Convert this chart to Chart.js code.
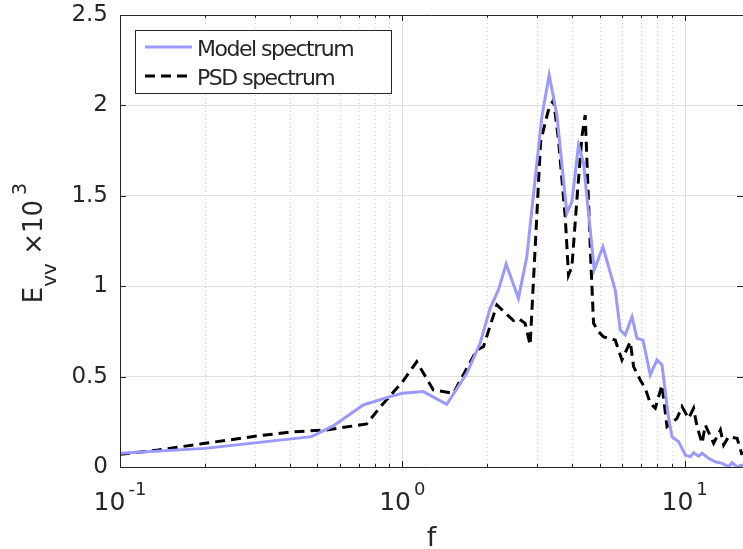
<!DOCTYPE html>
<html>
<head>
<meta charset="utf-8">
<script src="https://cdn.jsdelivr.net/npm/chart.js@4/dist/chart.umd.min.js"></script>
<style>
  html, body { margin: 0; padding: 0; background: #fff; }
</style>
</head>
<body>
<canvas id="myChart" width="743" height="549"></canvas>
<script>
// model spectrum (blue solid)
const modelF = [0.1, 0.2, 0.477, 0.569, 0.727, 0.905, 1.0, 1.187, 1.437, 1.692, 1.886, 2.046, 2.19, 2.332, 2.578, 2.761,
  3.121, 3.313, 3.528, 3.828, 3.988, 4.209, 4.385, 4.784, 5.135, 5.679, 5.916, 6.163, 6.51, 6.781, 7.121, 7.557,
  7.983, 8.316, 8.776, 9.022, 9.522, 10.06, 10.48, 10.76, 11.21, 11.53, 12.16, 12.85, 13.57, 14.32, 14.73, 15.34, 15.98, 16.1];
const modelE = [0.076, 0.103, 0.168, 0.227, 0.343, 0.389, 0.408, 0.417, 0.347, 0.518, 0.684, 0.878, 0.979, 1.123, 0.933, 1.163,
  1.938, 2.168, 1.947, 1.403, 1.468, 1.781, 1.68, 1.09, 1.218, 0.979, 0.758, 0.73, 0.831, 0.712, 0.702, 0.509,
  0.592, 0.564, 0.269, 0.168, 0.14, 0.066, 0.057, 0.079, 0.06, 0.076, 0.048, 0.029, 0.02, 0.002, 0.024, 0.0, 0.011, 0.01];

// PSD spectrum (black dashed)
const psdF = [0.1, 0.1364, 0.2, 0.3046, 0.4107, 0.5394, 0.7476, 0.8334, 1.0, 1.125, 1.288, 1.517, 1.836, 1.938, 2.162,
  2.476, 2.578, 2.723, 2.837, 3.09, 3.287, 3.432, 3.574, 3.776, 3.879, 3.988, 4.153, 4.327, 4.445, 4.507, 4.657,
  4.758, 4.955, 5.162, 5.679, 5.998, 6.42, 6.595, 6.965, 7.255, 7.557, 7.873, 8.316, 8.663, 9.397, 9.79, 10.33,
  10.76, 11.07, 11.53, 11.84, 12.67, 13.39, 13.75, 14.32, 15.34, 15.98];
const psdE = [0.07, 0.094, 0.131, 0.171, 0.195, 0.205, 0.238, 0.33, 0.47, 0.582, 0.426, 0.408, 0.647, 0.665, 0.896,
  0.81, 0.822, 0.795, 0.675, 1.80, 1.97, 2.03, 1.81, 1.385, 1.062, 1.108, 1.477, 1.827, 1.947, 1.698, 1.127,
  0.795, 0.748, 0.72, 0.702, 0.592, 0.693, 0.555, 0.481, 0.435, 0.352, 0.325, 0.453, 0.223, 0.269, 0.334, 0.269,
  0.325, 0.223, 0.131, 0.232, 0.131, 0.205, 0.122, 0.168, 0.159, 0.066];

const xMajor = [0.1, 1, 10];
const xMajorLabels = [['10', '-1'], ['10', '0'], ['10', '1']];
const yTicks = [0, 0.5, 1, 1.5, 2, 2.5];
const seriesNames = ['Model spectrum', 'PSD spectrum'];

const txtColor = '#262626';
const blue = '#9999ff';
const font = 'DejaVu Sans';

// minor x values for grid/ticks
function xGridValues(min, max) {
  const out = [];
  for (let d = -1; d <= 1; d++) {
    for (let k = 1; k <= 9; k++) {
      const v = k * Math.pow(10, d);
      if (v >= min && v <= max) out.push({ v: v, major: k === 1 });
    }
  }
  return out;
}

const decor = {
  id: 'decor',
  beforeDatasetsDraw(chart) {
    const ctx = chart.ctx, a = chart.chartArea, xs = chart.scales.x;
    ctx.save();
    ctx.lineWidth = 1;
    xGridValues(xs.min, xs.max).forEach(g => {
      const px = Math.round(xs.getPixelForValue(g.v)) + 0.5;
      if (g.major) { ctx.strokeStyle = '#dedede'; ctx.setLineDash([]); }
      else { ctx.strokeStyle = '#cfcfcf'; ctx.setLineDash([1, 3]); }
      ctx.beginPath(); ctx.moveTo(px, a.top); ctx.lineTo(px, a.bottom); ctx.stroke();
    });
    ctx.restore();
  },
  afterDraw(chart) {
    const ctx = chart.ctx, a = chart.chartArea, xs = chart.scales.x, ys = chart.scales.y;
    ctx.save();
    // axes box
    ctx.strokeStyle = txtColor; ctx.lineWidth = 1; ctx.setLineDash([]);
    ctx.beginPath();
    ctx.moveTo(a.left + 0.5, a.bottom + 0.5); ctx.lineTo(a.left + 0.5, a.top + 0.5); ctx.lineTo(a.right, a.top + 0.5);
    ctx.moveTo(a.left + 0.5, a.bottom + 0.5); ctx.lineTo(a.right, a.bottom + 0.5);
    ctx.stroke();
    // x ticks (inward, top and bottom)
    ctx.beginPath();
    xGridValues(xs.min, xs.max).forEach(g => {
      const px = Math.round(xs.getPixelForValue(g.v)) + 0.5;
      const len = g.major ? 6 : 3;
      ctx.moveTo(px, a.bottom); ctx.lineTo(px, a.bottom - len);
      ctx.moveTo(px, a.top); ctx.lineTo(px, a.top + len);
    });
    // y ticks
    yTicks.forEach(v => {
      const py = Math.round(ys.getPixelForValue(v)) + 0.5;
      ctx.moveTo(a.left, py); ctx.lineTo(a.left + 6, py);
      ctx.moveTo(a.right, py); ctx.lineTo(a.right - 6, py);
    });
    ctx.stroke();

    // x tick labels with superscript
    ctx.fillStyle = txtColor;
    ctx.textBaseline = 'alphabetic';
    ctx.textAlign = 'left';
    xMajor.forEach((v, i) => {
      const px = xs.getPixelForValue(v);
      const [base, sup] = xMajorLabels[i];
      ctx.font = '25px "' + font + '"';
      const wb = ctx.measureText(base).width;
      ctx.font = '18px "' + font + '"';
      const ws = ctx.measureText(sup).width;
      const x0 = px - (wb + 3 + ws) / 2;
      ctx.font = '25px "' + font + '"';
      ctx.fillText(base, x0, 510);
      ctx.font = '18px "' + font + '"';
      ctx.fillText(sup, x0 + wb + 3, 495);
    });

    // x title
    ctx.font = '27px "' + font + '"';
    ctx.textAlign = 'center';
    ctx.fillText('f', (a.left + a.right) / 2, 546);

    // y title: E_vv x10^3
    const segs = [
      { t: 'E', size: 26, dy: 0 },
      { t: 'vv', size: 20, dy: 14 },
      { t: ' \u00d7', size: 26, dy: 0 },
      { t: '10', size: 26, dy: 0 },
      { t: '3', size: 19, dy: -16, gap: 5 }
    ];
    let total = 0;
    segs.forEach(s => { ctx.font = s.size + 'px "' + font + '"'; s.w = ctx.measureText(s.t).width; total += s.w + (s.gap || 0); });
    ctx.save();
    ctx.translate(42, 243);
    ctx.rotate(-Math.PI / 2);
    ctx.textAlign = 'left';
    let cx = -total / 2;
    segs.forEach(s => {
      cx += (s.gap || 0);
      ctx.font = s.size + 'px "' + font + '"';
      ctx.fillText(s.t, cx, s.dy);
      cx += s.w;
    });
    ctx.restore();

    // legend
    const bx = 135.5, by = 30.5, bw = 256, bh = 63;
    ctx.fillStyle = '#fff';
    ctx.fillRect(bx, by, bw, bh);
    ctx.strokeStyle = txtColor; ctx.lineWidth = 1;
    ctx.strokeRect(bx, by, bw, bh);
    const rows = [
      { y: 47, color: blue, dash: [] },
      { y: 76, color: '#000', dash: [10, 6] }
    ];
    rows.forEach((r, i) => {
      ctx.strokeStyle = r.color; ctx.lineWidth = 3; ctx.setLineDash(r.dash);
      ctx.beginPath(); ctx.moveTo(145, r.y); ctx.lineTo(192, r.y); ctx.stroke();
      ctx.setLineDash([]);
      ctx.fillStyle = txtColor;
      ctx.font = '22px "' + font + '"';
      ctx.letterSpacing = '-1.5px';
      ctx.textAlign = 'left';
      ctx.fillText(seriesNames[i], 197, r.y + 9);
      ctx.letterSpacing = '0px';
    });
    ctx.restore();
  }
};

const data = {
  datasets: [
    {
      label: seriesNames[0],
      data: modelF.map((f, i) => ({ x: f, y: modelE[i] })),
      borderColor: blue,
      borderWidth: 3,
      pointRadius: 0,
      tension: 0,
      fill: false
    },
    {
      label: seriesNames[1],
      data: psdF.map((f, i) => ({ x: f, y: psdE[i] })),
      borderColor: '#000',
      borderWidth: 3,
      borderDash: [10, 6],
      pointRadius: 0,
      tension: 0,
      fill: false
    }
  ]
};

const config = {
  type: 'line',
  data: data,
  options: {
    responsive: false,
    animation: false,
    devicePixelRatio: 1,
    layout: { padding: { top: 15, left: 0, right: 0, bottom: 0 } },
    plugins: { legend: { display: false }, tooltip: { enabled: false } },
    scales: {
      x: {
        type: 'logarithmic',
        min: 0.1,
        max: 16.1,
        grid: { display: false },
        border: { display: false },
        ticks: { display: false },
        afterFit(s) { s.height = 82; s.paddingLeft = 0; s.paddingRight = 0; }
      },
      y: {
        min: 0,
        max: 2.5,
        afterBuildTicks(s) { s.ticks = yTicks.map(v => ({ value: v })); },
        ticks: {
          font: { family: font, size: 23 },
          color: txtColor,
          padding: 12,
          callback: v => String(v)
        },
        grid: { color: '#e0e0e0', drawTicks: false },
        border: { display: false },
        afterFit(s) { s.width = 120; s.paddingTop = 0; s.paddingBottom = 0; }
      }
    }
  },
  plugins: [decor]
};

const myChart = new Chart(document.getElementById('myChart'), config);
</script>
</body>
</html>
